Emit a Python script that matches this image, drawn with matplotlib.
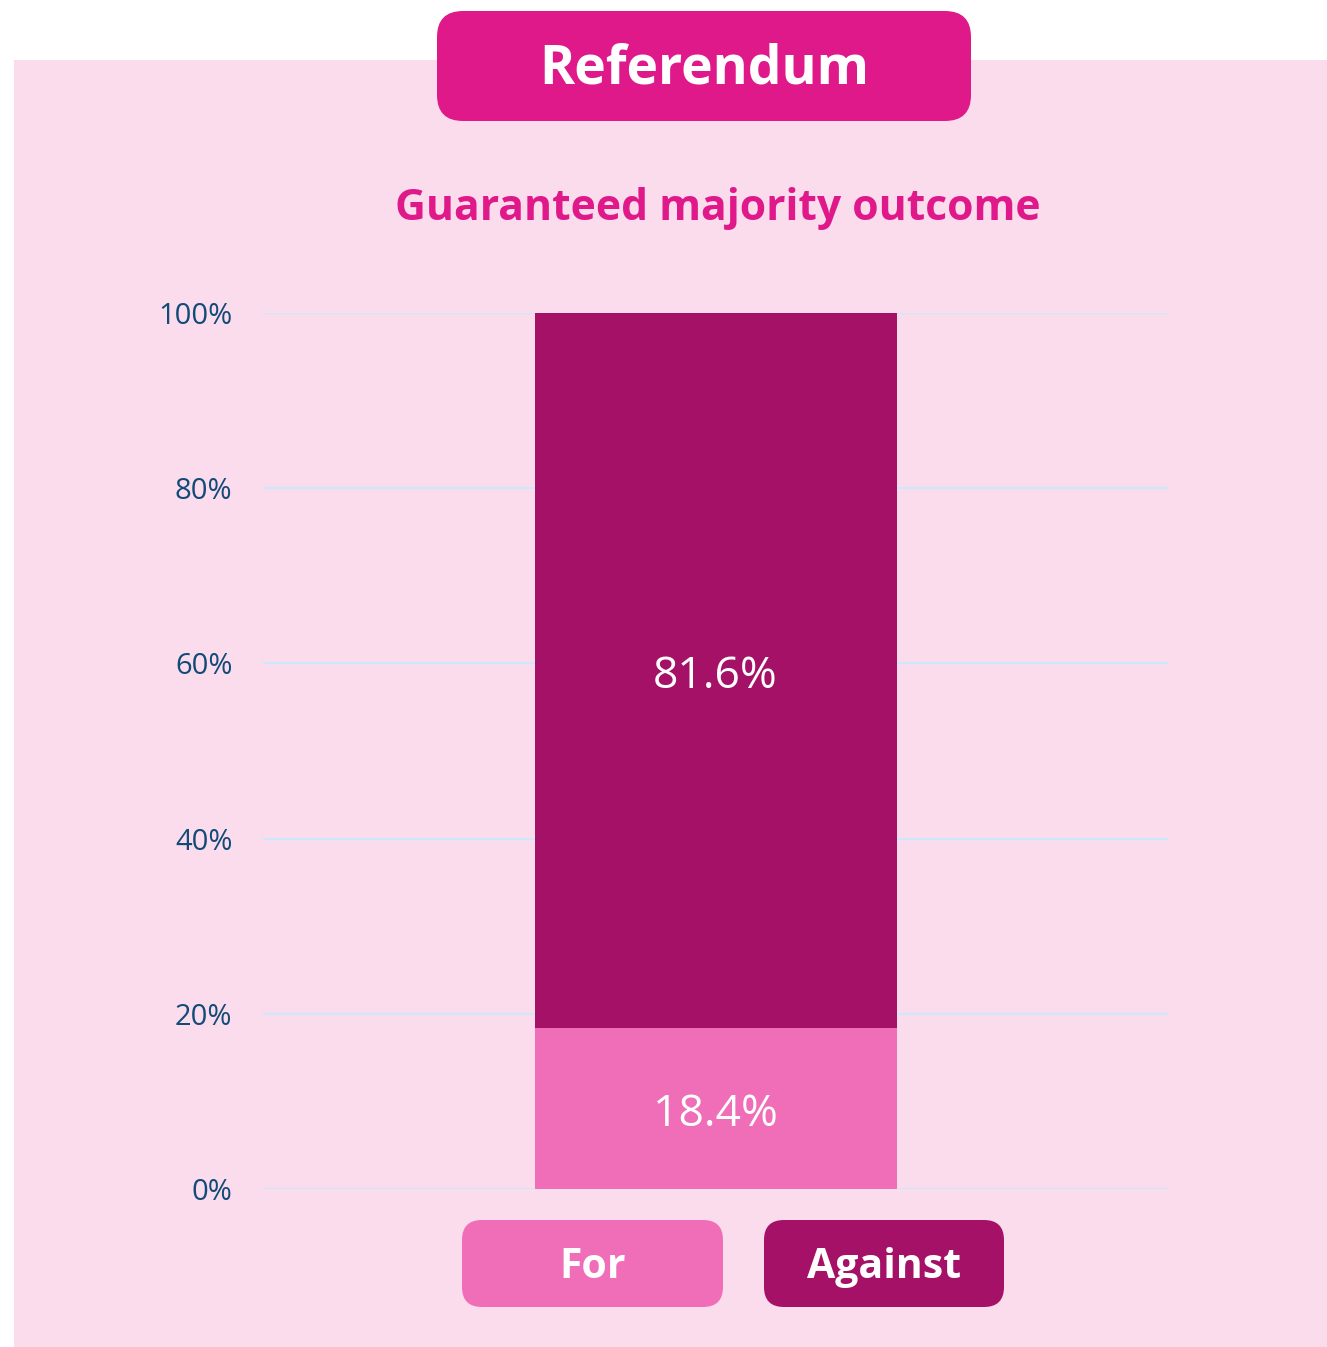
import matplotlib.pyplot as plt
from matplotlib.patches import FancyBboxPatch, Rectangle
from matplotlib.transforms import ScaledTranslation

plt.rcParams['font.family'] = ['Open Sans', 'DejaVu Sans']

# data
categories = ["For", "Against"]
shares = [18.4, 81.6]
y_ticks = [0, 20, 40, 60, 80, 100]
tick_labels = ["%d%%" % t for t in y_ticks]

# colours
panel_bg = "#FBDCEC"
title_col = "#E0198A"
seg_cols = ["#F06EB8", "#A51166"]
grid_col = "#CCE8FA"
tick_col = "#124A78"

W, H = 1327, 1347
fig = plt.figure(figsize=(W / 100, H / 100), dpi=100)
fig.patch.set_facecolor("white")

# overlay axes in pixel units for the panel and the boxes
bg = fig.add_axes([0, 0, 1, 1], zorder=0)
bg.set_xlim(0, W)
bg.set_ylim(H, 0)
bg.axis("off")
bg.add_patch(Rectangle((14, 60), W - 14, H - 60, facecolor=panel_bg, edgecolor="none"))
bg.add_patch(FancyBboxPatch((437 + 26, 11 + 26), 534 - 52, 110 - 52,
                            boxstyle="round,pad=26", facecolor=title_col, edgecolor="none"))
bg.text(704, 70, "Referendum", ha="center", va="center", color="white",
        fontsize=38.5, fontweight="bold")
bg.text(718, 208, "Guaranteed majority outcome", ha="center", va="center",
        color=title_col, fontsize=30.7, fontweight="bold")

# legend boxes
legend_boxes = [(462, 261), (764, 240)]
for (x0, w), name, col in zip(legend_boxes, categories, seg_cols):
    bg.add_patch(FancyBboxPatch((x0 + 20, 1220 + 20), w - 40, 87 - 40,
                                boxstyle="round,pad=20", facecolor=col, edgecolor="none"))
    bg.text(x0 + w / 2, 1268, name, ha="center", va="center", color="white",
            fontsize=29.5, fontweight="bold")

# main chart
ax = fig.add_axes([263 / W, 1 - 1189 / H, 905 / W, 876 / H], zorder=1)
ax.set_facecolor("none")
shift = ax.transData + ScaledTranslation(0, -0.06, fig.dpi_scale_trans)
bottom = 0
for name, val, col in zip(categories, shares, seg_cols):
    ax.bar(0.5, val, width=0.4, bottom=bottom, color=col, zorder=3)
    ax.text(0.5, bottom + val / 2, "%.1f%%" % val, ha="center", va="center",
            color="white", fontsize=32, zorder=4, transform=shift)
    bottom += val

ax.set_xlim(0, 1)
ax.set_ylim(0, 100)
ax.set_yticks(y_ticks)
ax.set_yticklabels(tick_labels)
ax.set_xticks([])
ax.tick_params(axis="y", length=0, pad=22, labelsize=21, labelcolor=tick_col)
ax.yaxis.grid(True, color=grid_col, linewidth=1.6, zorder=1)
ax.set_axisbelow(True)
for s in ax.spines.values():
    s.set_visible(False)

fig.savefig("out.png", dpi=100, facecolor=fig.get_facecolor())
